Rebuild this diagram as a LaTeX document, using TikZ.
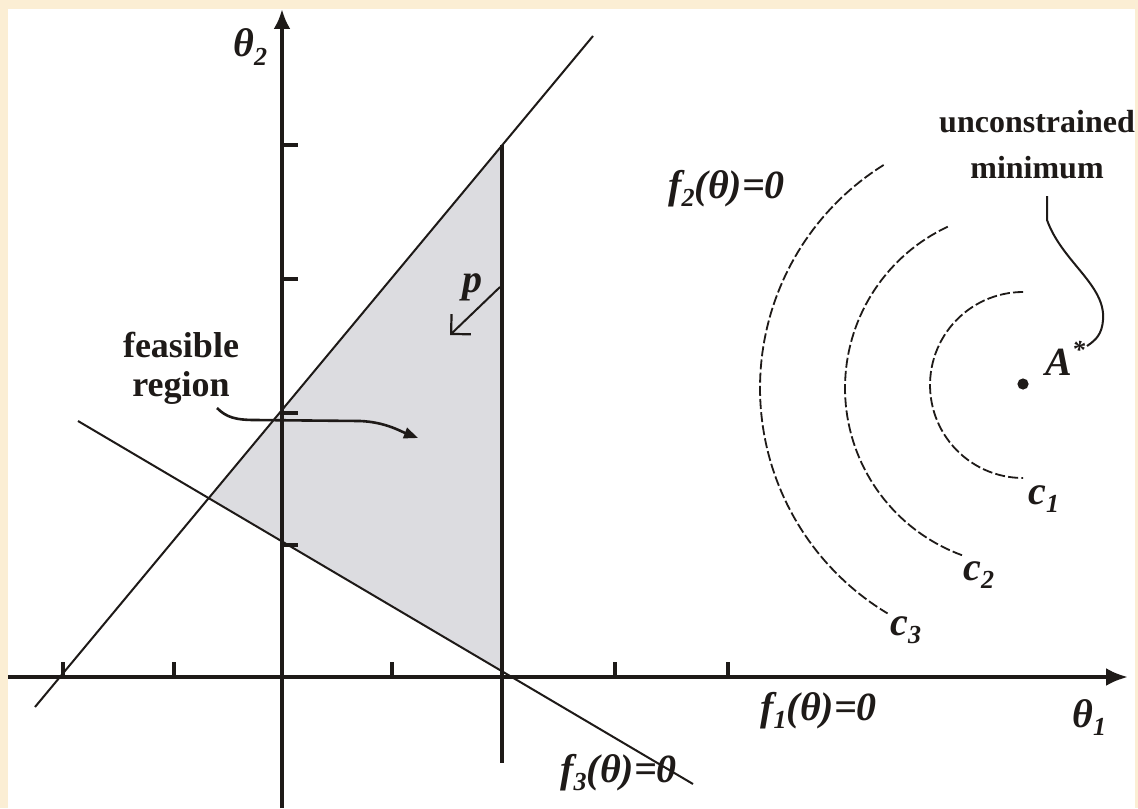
\documentclass[tikz,border=0pt]{standalone}
\usepackage{fontspec}
\setmainfont{Liberation Serif}
\usetikzlibrary{arrows.meta}
\definecolor{cream}{RGB}{251,238,212}
\definecolor{ink}{RGB}{30,26,24}
\definecolor{feasgray}{RGB}{220,220,224}
\newcommand\lowidx[1]{\raisebox{-0.45ex}{\fontsize{13}{13}\selectfont #1}}
\newcommand\highidx[1]{\raisebox{0.9ex}{\fontsize{13}{13}\selectfont #1}}
\tikzset{
  axisline/.style={ink, line width=2pt},
  thinline/.style={ink, line width=1pt},
  contour/.style={ink, line width=0.9pt, dash pattern=on 5pt off 1.6pt},
  tickmark/.style={ink, line width=2pt},
  mathlbl/.style={ink, font=\fontsize{20}{22}\selectfont\bfseries\itshape, inner sep=0pt},
  textlbl/.style={ink, font=\fontsize{17}{20}\selectfont\bfseries, align=center, inner sep=0pt},
}
\begin{document}
\begin{tikzpicture}[x=0.5pt, y=-0.5pt]
\useasboundingbox (0,0) rectangle (1138,808);
\fill[cream] (0,0) rectangle (1138,808);
\fill[white] (8,9) rectangle (1135,808);

% key points
\coordinate (dA) at (35,707);
\coordinate (dB) at (593,36);
\coordinate (lA) at (78,421);
\coordinate (lB) at (693,784);
\coordinate (pX) at (208.7,498.1);
\coordinate (pT) at (502,145.4);
\coordinate (pB) at (502,671.2);
\coordinate (vBot) at (502,763);

% feasible region
\fill[feasgray] (pX) -- (pT) -- (pB) -- cycle;

% constraint lines
\draw[thinline] (dA) -- (dB);
\draw[thinline] (lA) -- (lB);
\draw[ink, line width=1.8pt] (pT) -- (vBot);

% axes
\coordinate (xL) at (8,677);
\coordinate (xR) at (1128,677);
\coordinate (yB) at (282,808);
\coordinate (yT) at (282,9);
\draw[axisline, -{Latex[length=11pt,width=9pt]}] (xL) -- (xR);
\draw[axisline, -{Latex[length=10pt,width=8.5pt]}] (yB) -- (yT);

% ticks
\foreach \tx in {63,174,392,615,728} \draw[tickmark] (\tx,677) -- (\tx,662);
\foreach \ty in {145,279,413,545} \draw[tickmark] (282,\ty) -- (298,\ty);

% contours
\draw[contour] plot[domain=90:270, samples=60] ({1023+93*cos(\x)}, {385-93*sin(\x)});
\draw[contour] plot[domain=115:250, samples=70] ({1023+178*cos(\x)}, {388-178*sin(\x)});
\draw[contour] plot[domain=122:239, samples=80] ({1023+263*cos(\x)}, {388-263*sin(\x)});

% minimum point
\fill[ink] (1023,384) circle[radius=2.8pt];

% labels
\node[mathlbl, anchor=base west] (th2) at (233,57) {θ\lowidx{2}};
\node[mathlbl, anchor=base west] (th1) at (1072,727) {θ\lowidx{1}};
\node[mathlbl, anchor=base west] (f2) at (668,198) {f\lowidx{2}(θ)=0};
\node[mathlbl, anchor=base west] (f1) at (760,720) {f\lowidx{1}(θ)=0};
\node[mathlbl, anchor=base west] (f3) at (560,782) {f\lowidx{3}(θ)=0};
\node[mathlbl, anchor=base west] (plbl) at (462,292) {p};
\node[mathlbl, anchor=base west] (Astar) at (1045,375) {A\highidx{*}};
\node[mathlbl, anchor=base west] (c1) at (1028,504) {c\lowidx{1}};
\node[mathlbl, anchor=base west] (c2) at (963,580) {c\lowidx{2}};
\node[mathlbl, anchor=base west] (c3) at (890,635) {c\lowidx{3}};
\node[textlbl, font=\fontsize{18}{19.5}\selectfont\bfseries] (feas) at (181,368) {feasible\\region};
\node[textlbl, font=\fontsize{16}{23}\selectfont\bfseries] (uncon) at (1037,145) {unconstrained\\minimum};

% p arrow
\coordinate (pS) at (500,287);
\coordinate (pE) at (450,335);
\draw[thinline, -{Straight Barb[length=7pt,width=14pt,line width=1.1pt]}] (pS) -- (pE);

% feasible region leader
\coordinate (fS) at (217,408);
\coordinate (fE) at (418,438);
\draw[ink, line width=1.3pt, -{Triangle[length=7pt,width=5.5pt]}] (fS) .. controls (226,417) and (235,420) .. (255,420) -- (360,421) .. controls (385,422) and (400,431) .. (fE);

% unconstrained minimum leader
\coordinate (uS) at (1047,196);
\coordinate (uE) at (1087,346);
\draw[thinline] (uS) -- (1047,220) .. controls (1062,262) and (1106,285) .. (1103,320) .. controls (1102,334) and (1096,340) .. (uE);
\end{tikzpicture}
\end{document}
